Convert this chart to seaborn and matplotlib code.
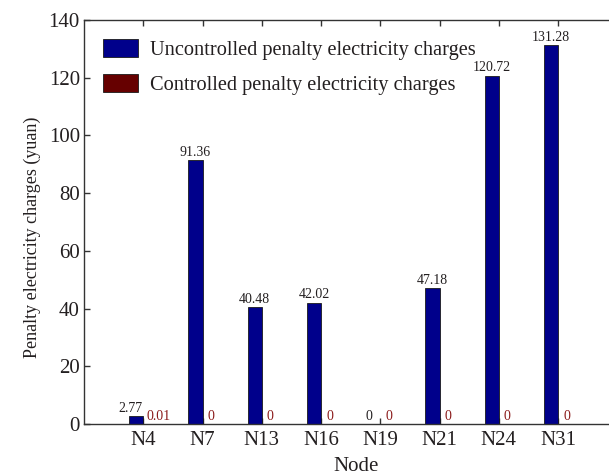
import matplotlib
matplotlib.use("Agg")
import matplotlib.pyplot as plt
import seaborn as sns
import pandas as pd

nodes = ["N4", "N7", "N13", "N16", "N19", "N21", "N24", "N31"]
uncontrolled = [2.77, 91.36, 40.48, 42.02, 0, 47.18, 120.72, 131.28]
controlled = [0.01, 0, 0, 0, 0, 0, 0, 0]
series_names = ["Uncontrolled penalty electricity charges",
                "Controlled penalty electricity charges"]
yticks = [0, 20, 40, 60, 80, 100, 120, 140]

df = pd.DataFrame({
    "Node": nodes * 2,
    "value": uncontrolled + controlled,
    "series": [series_names[0]] * len(nodes) + [series_names[1]] * len(nodes),
})

sns.set_theme(style="white")
plt.rcParams['font.family'] = ['Liberation Serif', 'DejaVu Serif']
txt = "#231f20"

fig = plt.figure(figsize=(6.09, 4.75), dpi=100)
ax = fig.add_axes([0.138, 0.107, 0.862, 0.851])

sns.barplot(data=df, x="Node", y="value", hue="series", order=nodes,
            hue_order=series_names, palette=["#00008b", "#660000"],
            saturation=1, width=0.48, edgecolor="#1a1a1a", linewidth=0.6,
            ax=ax, errorbar=None)

ax.set_xlim(-1.0, 7.86)
ax.set_ylim(0, 140)
ax.set_yticks(yticks)
ax.set_yticklabels([str(t) for t in yticks])

lbl_colors = [txt, "#8b1a1a"]
fmt_lists = [[("%g" % v) for v in uncontrolled], [("%g" % v) for v in controlled]]
shifts = [[-4, 0, 0, 0, -3, 0, 0, 0], [6, 1, 1, 1, 1, 1, 1, 1]]
for cont, labs, col, sh in zip(ax.containers, fmt_lists, lbl_colors, shifts):
    anns = ax.bar_label(cont, labels=labs, fontsize=10, color=col, padding=1)
    for a, s in zip(anns, sh):
        x0, y0 = a.xyann
        a.xyann = (x0 + s, y0)

for s in ["left", "top", "bottom"]:
    ax.spines[s].set_color("#333333")
    ax.spines[s].set_linewidth(1.0)
ax.spines["right"].set_visible(False)

ax.tick_params(axis="x", which="both", direction="in", top=True, bottom=True,
               length=4, width=1, colors="#333333", labelsize=15,
               labelcolor=txt, pad=5)
ax.tick_params(axis="y", which="both", direction="in", left=True, right=False,
               length=4, width=1, colors="#333333", labelsize=15,
               labelcolor=txt, pad=3)

ax.set_xlabel("Node", fontsize=15, color=txt)
ax.xaxis.set_label_coords(0.518, -0.082)
ax.set_ylabel("Penalty electricity charges (yuan)", fontsize=13, color=txt)
ax.yaxis.set_label_coords(-0.082, 0.463)

leg = ax.legend(loc="upper left", bbox_to_anchor=(0.0, 1.0), frameon=False,
                fontsize=14.7, handlelength=1.71, handleheight=0.93,
                labelspacing=0.7, handletextpad=0.59, borderaxespad=0.55,
                title=None)
for t in leg.get_texts():
    t.set_color(txt)

fig.savefig("out.png", dpi=100)
